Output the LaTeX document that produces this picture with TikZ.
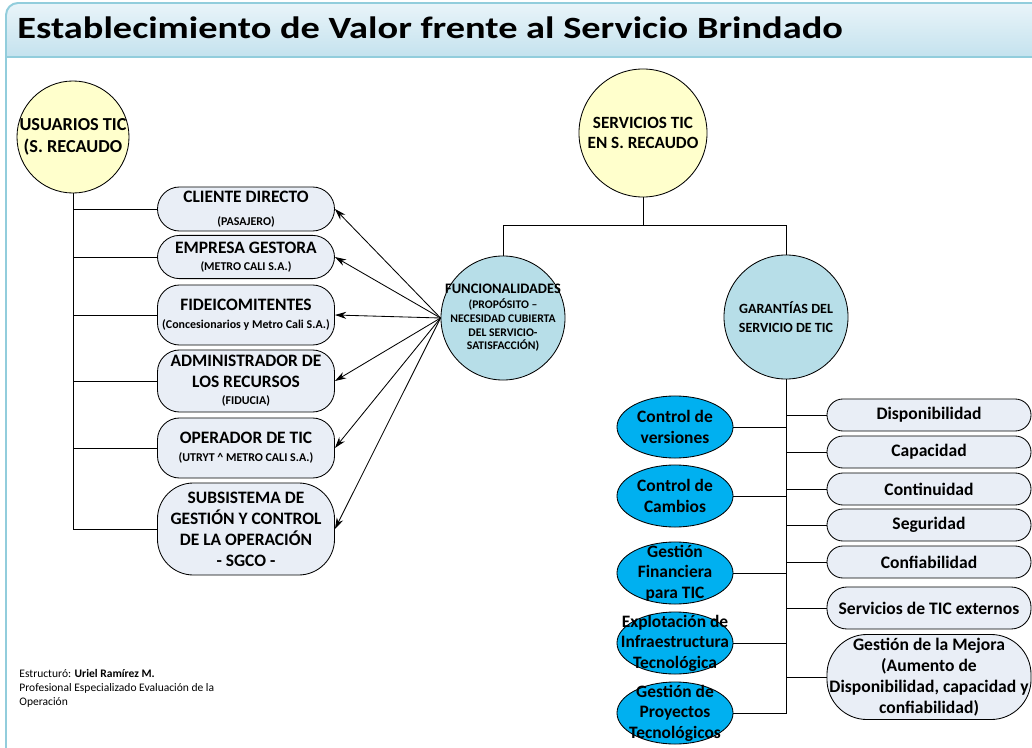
\documentclass[tikz,border=0pt]{standalone}
\usepackage{fontspec}
\setmainfont{Carlito}
\usetikzlibrary{shapes.geometric,arrows.meta,positioning}

\definecolor{cardline}{RGB}{146,205,220}
\definecolor{bandtop}{RGB}{233,244,249}
\definecolor{bandbot}{RGB}{196,226,238}
\definecolor{sunny}{RGB}{255,255,204}
\definecolor{sky}{RGB}{183,222,232}
\definecolor{cyanfill}{RGB}{0,176,240}
\definecolor{pale}{RGB}{233,238,246}

\newcommand{\smallnote}[1]{{\fontsize{8.5}{9}\selectfont #1}}

\begin{document}
\begin{tikzpicture}[x=0.025cm,y=-0.025cm,line width=0.6pt,
  hub/.style={circle,draw,inner sep=-1cm,align=center},
  user/.style={rectangle,draw,rounded corners=0.55cm,fill=pale,minimum width=4.425cm,
    inner sep=1pt,align=center,font=\bfseries\fontsize{12.4}{15}\selectfont},
  warranty/.style={rectangle,draw,rounded corners=0.4cm,fill=pale,minimum width=5.1cm,
    minimum height=0.8cm,inner sep=1pt,align=center,font=\bfseries\fontsize{12.5}{15}\selectfont},
  process/.style={ellipse,draw,fill=cyanfill,minimum width=2.9cm,minimum height=1.55cm,
    inner sep=-1cm,align=center,font=\bfseries\fontsize{12.4}{14.5}\selectfont},
  link/.style={-{Stealth[length=8pt,width=5pt]}}]

\useasboundingbox (0,0) rectangle (1032,748);

% card and title band
\begin{scope}
  \clip (0,0) rectangle (1032,748);
  \shade[top color=bandtop,bottom color=bandbot] (6,57) -- (6,15)
    arc[start angle=180,end angle=90,radius=0.3cm] -- (1040,3) -- (1040,57) -- cycle;
  \draw[cardline,line width=1.4pt] (6,760) -- (6,15)
    arc[start angle=180,end angle=90,radius=0.3cm] -- (1040,3);
  \draw[cardline,line width=1.4pt] (6,57) -- (1040,57);
\end{scope}
\node[anchor=base west,inner sep=0pt,font=\bfseries\fontsize{22}{26}\selectfont] (title) at (17,39)
  {\scalebox{1.24}[1]{Establecimiento de Valor frente al Servicio Brindado}};

% circles
\node[hub,fill=sunny,minimum size=2.8cm,font=\bfseries\fontsize{13}{16}\selectfont] (usu) at (73,137)
  {USUARIOS TIC\\(S. RECAUDO};
\node[hub,fill=sunny,minimum size=3.2cm,font=\bfseries\fontsize{12.2}{14}\selectfont] (serv) at (643,133)
  {SERVICIOS TIC\\EN S. RECAUDO};
\node[hub,fill=sky,minimum size=3.1cm,font=\bfseries\fontsize{8.3}{9.7}\selectfont] (func) at (503,318)
  {{\fontsize{10.3}{10}\selectfont FUNCIONALIDADES}\\[1pt](PROPÓSITO –\\NECESIDAD CUBIERTA\\DEL SERVICIO-\\SATISFACCIÓN)};
\node[hub,fill=sky,minimum size=3.1cm,font=\bfseries\fontsize{10}{14}\selectfont] (gar) at (786,317)
  {GARANTÍAS DEL\\SERVICIO DE TIC};

% users
\node[user,minimum height=1.1cm] (cli) at (246,209) {CLIENTE DIRECTO\\[1pt]\smallnote{(PASAJERO)}};
\node[user,minimum height=1.08cm] (emp) at (246,257) {EMPRESA GESTORA\\[-3pt]\smallnote{(METRO CALI S.A.)}};
\node[user,minimum height=1.5cm] (fid) at (246,315)
  {FIDEICOMITENTES\\[-2pt]\smallnote{(Concesionarios y Metro Cali S.A.)}};
\node[user,minimum height=1.55cm] (adm) at (246,381) {ADMINISTRADOR DE\\LOS RECURSOS\\[-3pt]\smallnote{(FIDUCIA)}};
\node[user,minimum height=1.5cm] (ope) at (246,448) {OPERADOR DE TIC\\[-2pt]\smallnote{(UTRYT \^{} METRO CALI S.A.)}};
\node[user,minimum height=2.3cm,rounded corners=0.9cm] (sgc) at (246,529)
  {SUBSISTEMA DE\\GESTIÓN Y CONTROL\\DE LA OPERACIÓN\\- SGCO -};

% warranties
\node[warranty] (dis) at (929,415) {Disponibilidad};
\node[warranty] (cap) at (929,452) {Capacidad};
\node[warranty] (con) at (929,489) {Continuidad};
\node[warranty] (seg) at (929,525) {Seguridad};
\node[warranty] (fia) at (929,562) {Confiabilidad};
\node[warranty,minimum height=1.05cm,rounded corners=0.5cm] (ext) at (929,608) {Servicios de TIC externos};
\node[warranty,minimum height=2.125cm,rounded corners=1cm] (mej) at (929,677)
  {Gestión de la Mejora\\(Aumento de\\Disponibilidad, capacidad y\\confiabilidad)};

% processes
\node[process] (ver) at (675,427) {Control de\\versiones};
\node[process] (cam) at (675,496) {Control de\\Cambios};
\node[process] (fin) at (675,573) {Gestión\\Financiera\\para TIC};
\node[process] (inf) at (675,643) {Explotación de\\Infraestructura\\Tecnológica};
\node[process] (pro) at (675,713) {Gestión de\\Proyectos\\Tecnológicos};

% credit
\node[anchor=north west,align=left,inner sep=0pt,font=\fontsize{8.2}{10}\selectfont] (credit) at (19,669)
  {Estructuró: \textbf{Uriel Ramírez M.}\\Profesional Especializado Evaluación de la\\Operación};

% connectors
\coordinate (split) at (643,225);
\draw (serv.south) -- (split) -| (func.north);
\draw (split) -| (gar.north);
\foreach \b in {cli,emp,fid,adm,ope,sgc}
  \draw (usu.south) |- (\b.west);
\foreach \b in {cli,emp,fid,adm,ope,sgc}
  \draw[link] (func.west) -- (\b.east);
\foreach \b in {dis,cap,con,seg,fia,ext,mej}
  \draw (gar.south) |- (\b.west);
\foreach \b in {ver,cam,fin,inf,pro}
  \draw (gar.south) |- (\b.east);
\end{tikzpicture}
\end{document}
